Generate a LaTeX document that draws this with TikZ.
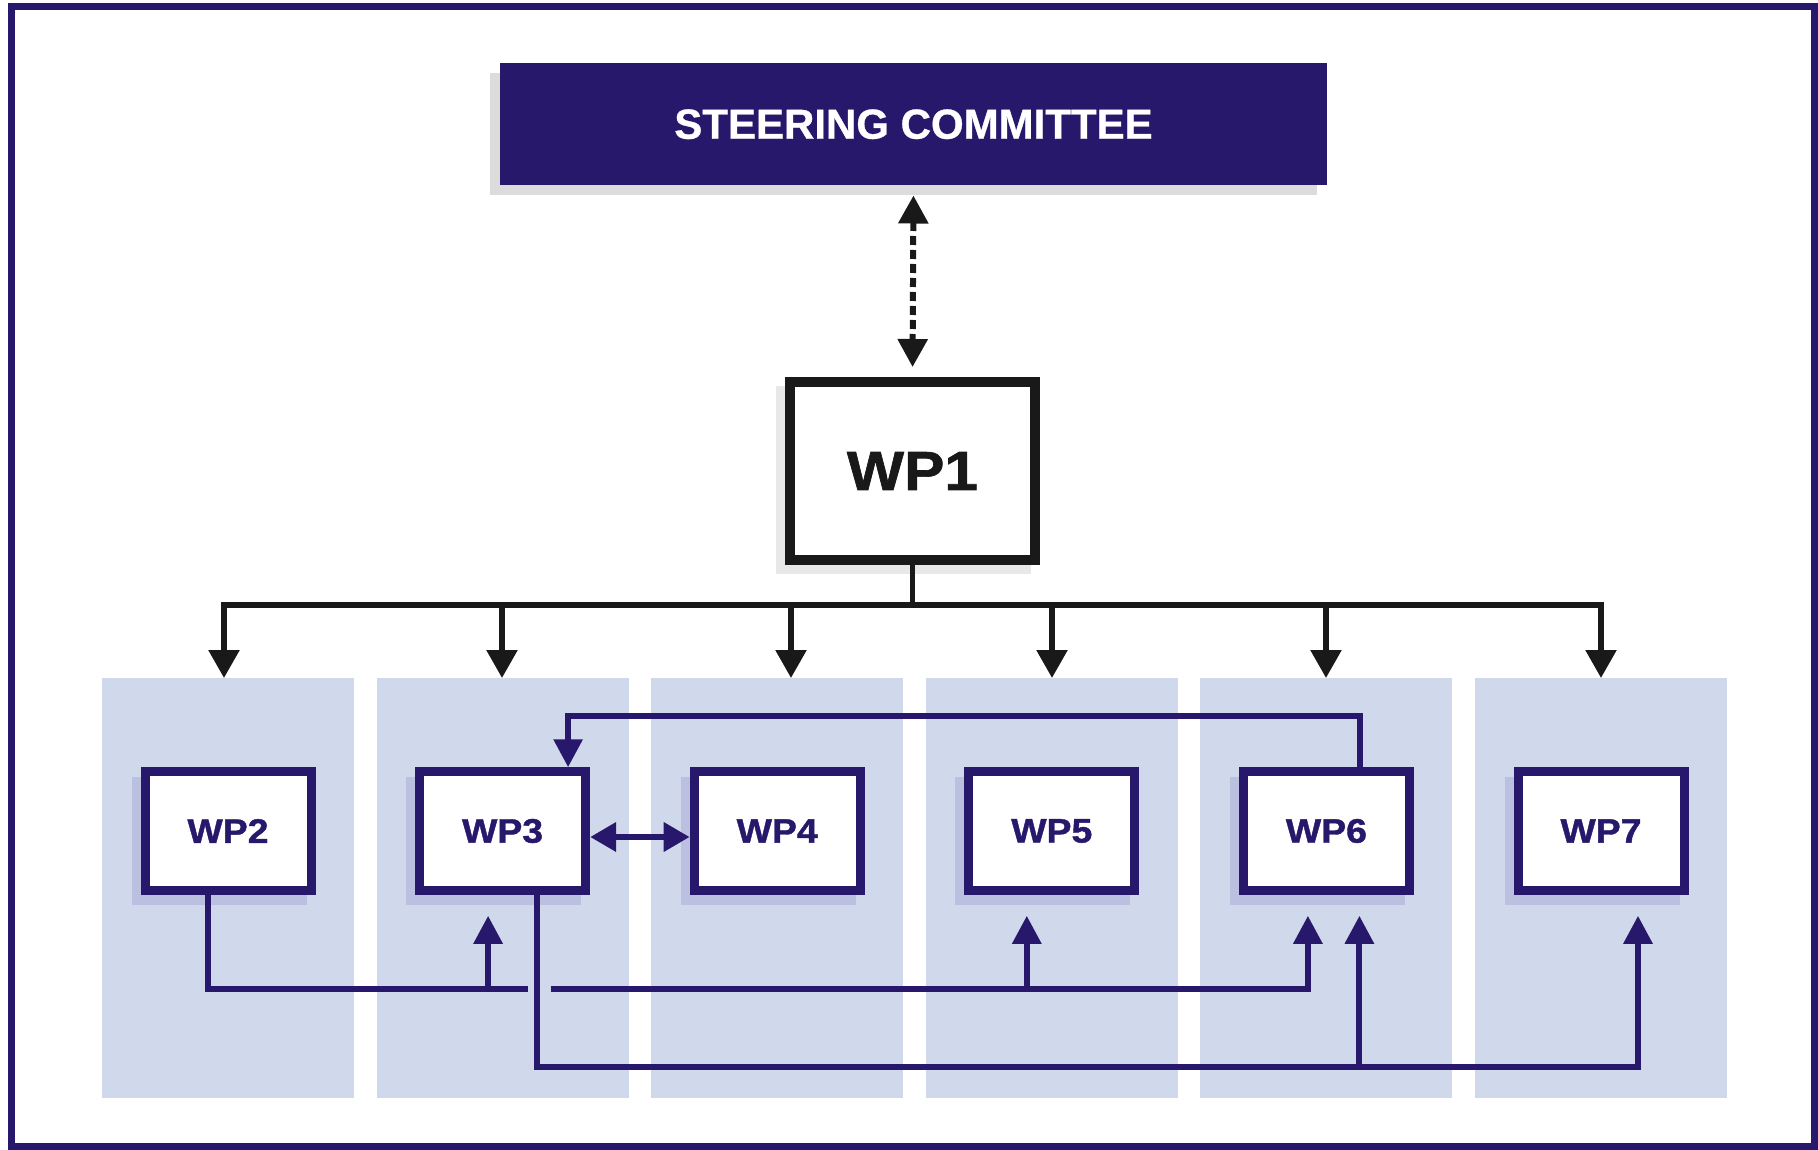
\documentclass[tikz,border=0pt]{standalone}
\usepackage{fontspec}
\setmainfont{Liberation Sans}
\newfontfamily\wpfont[FakeStretch=1.1, BoldFeatures={FakeBold=1.2}]{Liberation Sans}
\newfontfamily\steerfont[BoldFeatures={FakeBold=0.8}]{Liberation Sans}
\usetikzlibrary{arrows.meta,calc}
\definecolor{navy}{HTML}{27186B}
\definecolor{colfill}{HTML}{D0D9EC}
\definecolor{boxshade}{HTML}{BCC0E0}
\definecolor{greyshade}{HTML}{DCDCDC}
\definecolor{lightshade}{HTML}{E8E8E8}
\pgfdeclarelayer{back}
\pgfdeclarelayer{shade}
\pgfsetlayers{back,shade,main}
\begin{document}
\begin{tikzpicture}[x=1pt,y=-1pt,
  colbox/.style={fill=colfill, minimum width=252pt, minimum height=420pt, inner sep=0pt, outer sep=0pt},
  wpbox/.style={draw=navy, line width=9pt, fill=white, minimum width=166pt, minimum height=118.5pt, inner sep=0pt, text=navy, font=\wpfont\bfseries\fontsize{34}{36}\selectfont},
  topbox/.style={draw=black!90, line width=10pt, fill=white, minimum width=245pt, minimum height=178pt, inner sep=0pt, text=black!90, font=\wpfont\bfseries\fontsize{55}{60}\selectfont},
  steerbox/.style={fill=navy, minimum width=827pt, minimum height=122.5pt, inner sep=0pt, outer sep=0pt, text=white, font=\steerfont\bfseries\fontsize{42}{48}\selectfont},
  treeline/.style={draw=black!90, line width=5.5pt},
  treearrow/.style={treeline, -{Triangle[length=28pt,width=30pt]}},
  dashlink/.style={draw=black!90, line width=6pt, dash pattern=on 9pt off 5pt, {Triangle[length=28pt,width=29pt]}-{Triangle[length=28pt,width=29pt]}, shorten <=10pt, shorten >=10pt},
  conn/.style={draw=navy, line width=6pt, line join=miter},
  connarrow/.style={conn, -{Triangle[length=28pt,width=28pt]}},
]
\useasboundingbox (0,0) rectangle (1818,1150);
\begin{pgfonlayer}{back}
\fill[white] (0,0) rectangle (1818,1150);
\end{pgfonlayer}
\draw[navy, line width=7pt] (11,6.5) rectangle (1814.5,1146.5);

% columns
\begin{pgfonlayer}{back}
\node[colbox] (col2) at (228,888) {};
\node[colbox] (col3) at (502.6,888) {};
\node[colbox] (col4) at (777.2,888) {};
\node[colbox] (col5) at (1051.8,888) {};
\node[colbox] (col6) at (1326.4,888) {};
\node[colbox] (col7) at (1601,888) {};
\end{pgfonlayer}

% main boxes
\node[steerbox] (steer) at (913.5,124.25) {STEERING COMMITTEE};
\node[topbox] (wp1) at (912.5,471) {WP1};
\node[wpbox] (wp2) at (col2 |- 0,831) {WP2};
\node[wpbox] (wp3) at (col3 |- 0,831) {WP3};
\node[wpbox] (wp4) at (col4 |- 0,831) {WP4};
\node[wpbox] (wp5) at (col5 |- 0,831) {WP5};
\node[wpbox] (wp6) at (col6 |- 0,831) {WP6};
\node[wpbox] (wp7) at (col7 |- 0,831) {WP7};

% shadows
\begin{pgfonlayer}{shade}
\fill[greyshade] ([shift={(-10pt,-10pt)}]steer.north west) rectangle ([shift={(-10pt,-10pt)}]steer.south east);
\fill[lightshade] ([shift={(-9pt,-9pt)}]wp1.north west) rectangle ([shift={(-9pt,-9pt)}]wp1.south east);
\foreach \n in {wp2,wp3,wp4,wp5,wp6,wp7}
  \fill[boxshade] ([shift={(-9pt,-10pt)}]\n.north west) rectangle ([shift={(-9pt,-10pt)}]\n.south east);
\end{pgfonlayer}

% steering <-> WP1
\draw[dashlink] (steer.south) -- (wp1.north);

% tree
\coordinate (t2) at (224,605);
\coordinate (t3) at (502,605);
\coordinate (t4) at (791,605);
\coordinate (t5) at (1052,605);
\coordinate (t6) at (1326,605);
\coordinate (t7) at (1601,605);
\draw[treeline] (wp1.south) -- (wp1.south |- t2);
\draw[treeline, line cap=rect] (t2) -- (t7);
\draw[treearrow] (t2) -- (t2 |- col2.north);
\draw[treearrow] (t3) -- (t3 |- col3.north);
\draw[treearrow] (t4) -- (t4 |- col4.north);
\draw[treearrow] (t5) -- (t5 |- col5.north);
\draw[treearrow] (t6) -- (t6 |- col6.north);
\draw[treearrow] (t7) -- (t7 |- col7.north);

% WP6 -> WP3 (top loop)
\draw[connarrow] ($(wp6.north)+(33.5,0)$) -- ($(wp6.north)+(33.5,-51)$) -| ($(wp3.north)+(65.5,0)$);

% WP3 <-> WP4
\draw[conn, line width=6.5pt, {Triangle[length=26pt,width=28pt]}-{Triangle[length=26pt,width=28pt]}] ([yshift=-6pt]wp3.east) -- ([yshift=-6pt]wp4.west);

% WP2 -> WP3, WP5, WP6
\draw[conn] ($(wp2.south)+(-20.5,0)$) -- ($(wp2.south)+(-20.5,94)$) -- ($(wp3.south)+(25,94)$);
\draw[connarrow] ($(wp3.south)+(48,94)$) -- ($(wp6.south)+(-18.5,94)$) -- ($(wp6.south)+(-18.5,21)$);
\draw[connarrow] ($(wp3.south)+(-14.5,94)$) -- ($(wp3.south)+(-14.5,21)$);
\draw[connarrow] ($(wp5.south)+(-25,94)$) -- ($(wp5.south)+(-25,21)$);

% WP3 -> WP6, WP7
\draw[connarrow] ($(wp3.south)+(34.5,0)$) -- ($(wp3.south)+(34.5,172)$) -- ($(wp7.south)+(37,172)$) -- ($(wp7.south)+(37,21)$);
\draw[connarrow] ($(wp6.south)+(33,172)$) -- ($(wp6.south)+(33,21)$);
\end{tikzpicture}
\end{document}
